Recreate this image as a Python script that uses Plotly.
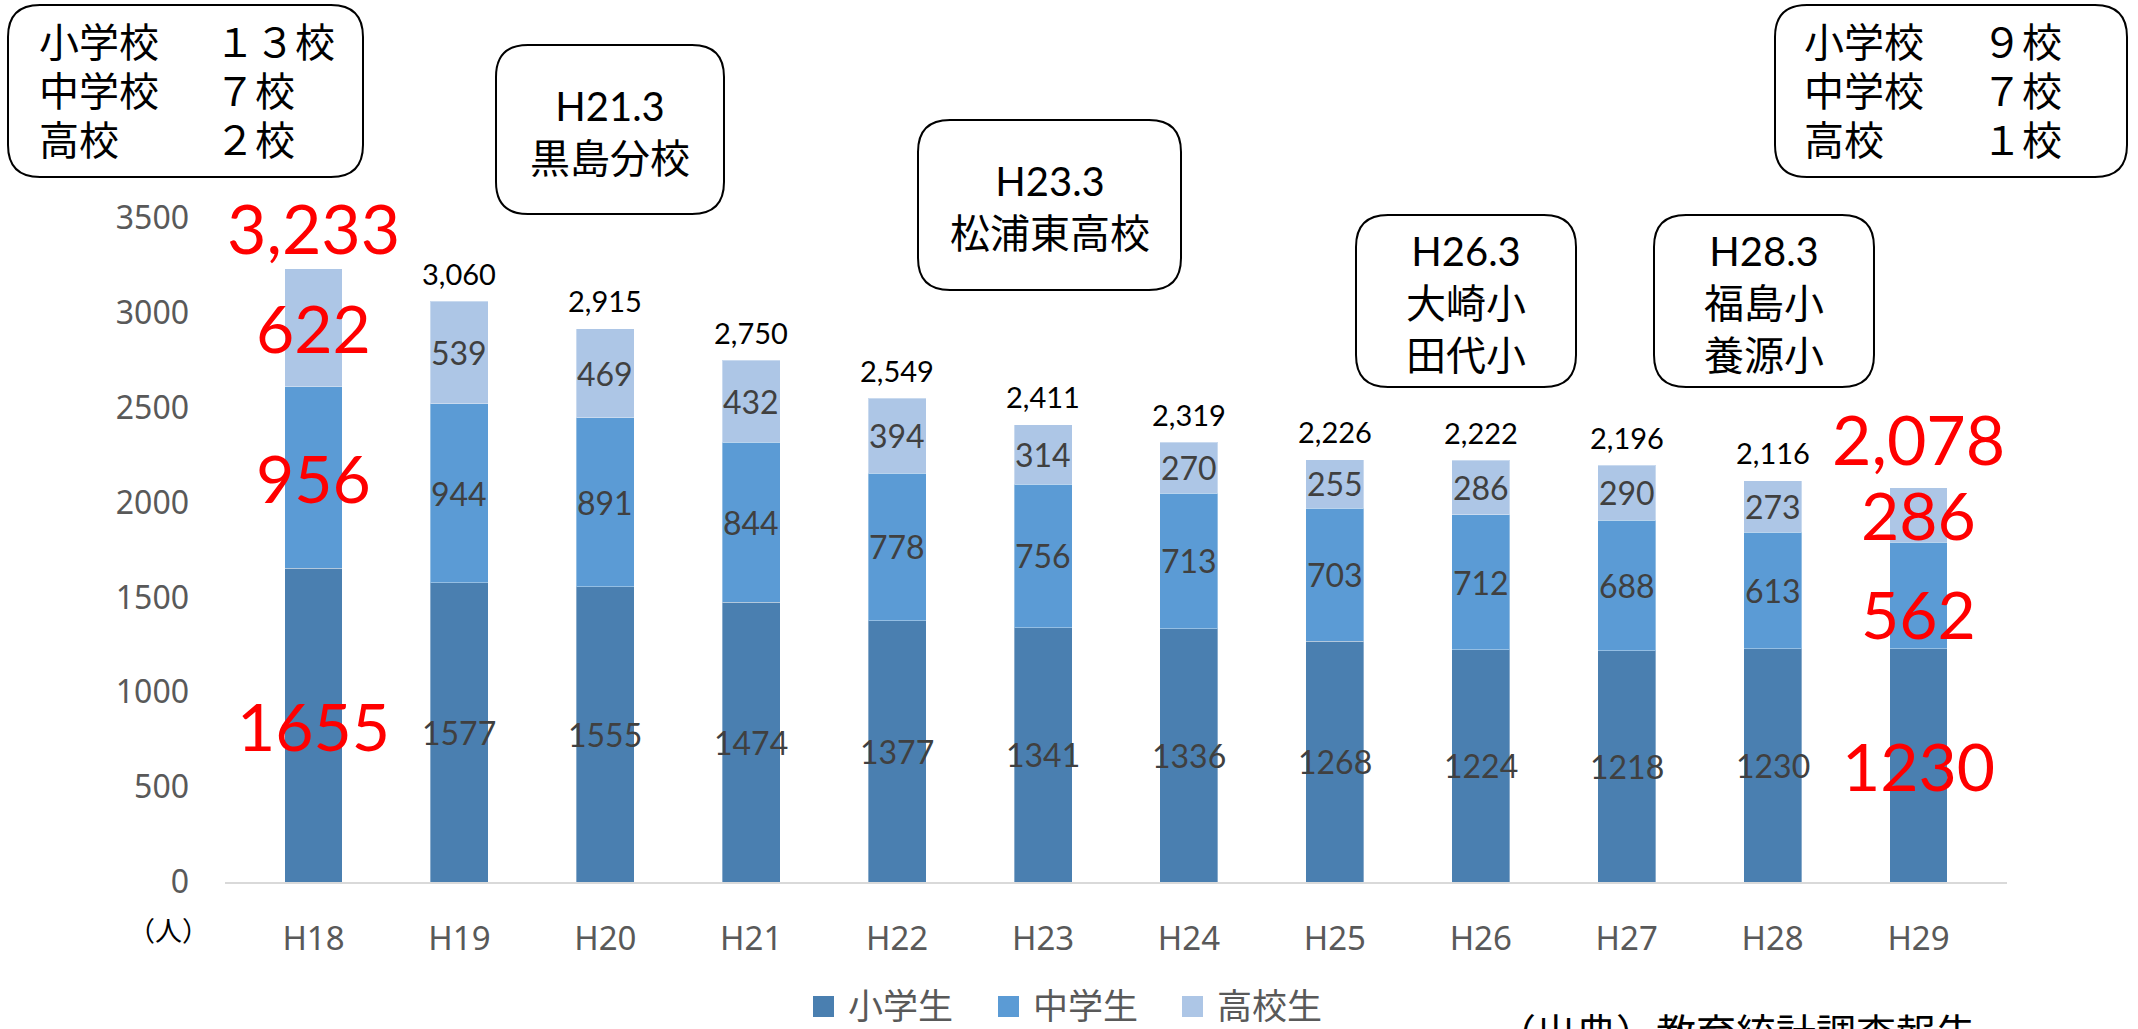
import plotly.graph_objects as go

categories = ["H18", "H19", "H20", "H21", "H22", "H23", "H24", "H25", "H26", "H27", "H28", "H29"]
elementary = [1655, 1577, 1555, 1474, 1377, 1341, 1336, 1268, 1224, 1218, 1230, 1230]
junior_high = [956, 944, 891, 844, 778, 756, 713, 703, 712, 688, 613, 562]
high_school = [622, 539, 469, 432, 394, 314, 270, 255, 286, 290, 273, 286]
series_names = ["小学生", "中学生", "高校生"]
highlight = ["H18", "H29"]
y_ticks = [0, 500, 1000, 1500, 2000, 2500, 3000, 3500]

left_box = [("小学校", "１３校"), ("中学校", "７校"), ("高校", "２校")]
right_box = [("小学校", "９校"), ("中学校", "７校"), ("高校", "１校")]
events = [
    "H21.3<br>黒島分校",
    "H23.3<br>松浦東高校",
    "H26.3<br>大崎小<br>田代小",
    "H28.3<br>福島小<br>養源小",
]
source_text = "（出典）教育統計調査報告"

colors = ["#4A7FB0", "#5B9BD5", "#ADC6E6"]

W, H = 2138, 1029
L, R, T, B = 225, 131, 218, 147
PW, PH = W - L - R, H - T - B

def px(x):
    return (x - L) / PW

def py(y):
    return (H - B - y) / PH

NUM_FONT = "Lato, 'Noto Sans CJK JP', sans-serif"
JP_FONT = "Lato, 'Noto Sans CJK JP', sans-serif"
AX_FONT = "'Noto Sans', sans-serif"

fig = go.Figure()
for name, vals, col in zip(series_names, [elementary, junior_high, high_school], colors):
    fig.add_trace(go.Bar(
        x=categories, y=vals, name=name,
        marker=dict(color=col, line=dict(color="rgba(255,255,255,0.35)", width=1)),
        showlegend=False, hoverinfo="x+y+name",
    ))

annotations = []
shapes = []

# segment and total labels
for i, c in enumerate(categories):
    segs = [elementary[i], junior_high[i], high_school[i]]
    total = sum(segs)
    red = c in highlight
    base = 0
    for k, v in enumerate(segs):
        center = base + v / 2
        base += v
        shift = 0
        if red and c == "H29" and k == 1:
            shift = -18
        annotations.append(dict(
            x=c, y=center, xref="x", yref="y", text=str(v), showarrow=False,
            yshift=shift,
            font=dict(family=NUM_FONT, size=66 if red else 32,
                      color="#FF0000" if red else "#404040"),
        ))
    if red:
        tshift = 41 if i == 0 else 49
    else:
        tshift = 28
    annotations.append(dict(
        x=c, y=total, xref="x", yref="y", text=f"{total:,}", showarrow=False,
        yanchor="middle", yshift=tshift,
        font=dict(family=NUM_FONT, size=68 if red else 29,
                  color="#FF0000" if red else "#000000"),
    ))

def rounded(x0, y0, x1, y1, r=30):
    def P(x, y):
        return f"{px(x):.5f},{py(y):.5f}"
    path = (f"M {P(x0 + r, y0)} L {P(x1 - r, y0)} Q {P(x1, y0)} {P(x1, y0 + r)} "
            f"L {P(x1, y1 - r)} Q {P(x1, y1)} {P(x1 - r, y1)} "
            f"L {P(x0 + r, y1)} Q {P(x0, y1)} {P(x0, y1 - r)} "
            f"L {P(x0, y0 + r)} Q {P(x0, y0)} {P(x0 + r, y0)} Z")
    return dict(type="path", xref="paper", yref="paper", path=path,
                line=dict(color="#000000", width=2), fillcolor="white", layer="above")

# corner boxes
corner_boxes = [((8, 5, 363, 177), 37, 213, left_box),
                ((1775, 5, 2127, 177), 1802, 1980, right_box)]
line_y = [42, 91, 140]
for (x0, y0, x1, y1), lx, rx, rows in corner_boxes:
    shapes.append(rounded(x0, y0, x1, y1, 32))
    for (a, b), yy in zip(rows, line_y):
        for tx, t in ((lx, a), (rx, b)):
            annotations.append(dict(
                x=px(tx), y=py(yy), xref="paper", yref="paper", text=t,
                showarrow=False, xanchor="left", yanchor="middle",
                font=dict(family=JP_FONT, size=40, color="#000000"),
            ))

# event boxes
event_boxes = [(496, 45, 724, 214), (918, 120, 1181, 290),
               (1356, 215, 1576, 387), (1654, 215, 1874, 387)]
for (x0, y0, x1, y1), t in zip(event_boxes, events):
    shapes.append(rounded(x0, y0, x1, y1, 32))
    annotations.append(dict(
        x=px((x0 + x1) / 2), y=py((y0 + y1) / 2 + 2), xref="paper", yref="paper",
        text=t, showarrow=False, xanchor="center", yanchor="middle",
        font=dict(family=JP_FONT, size=40, color="#000000"),
    ))

# unit label
annotations.append(dict(
    x=px(168), y=py(929), xref="paper", yref="paper", text="（人）",
    showarrow=False, xanchor="center", yanchor="middle",
    font=dict(family="'Noto Sans CJK JP', sans-serif", size=27, color="#000000"),
))

# manual legend
legend_x = [813, 998, 1182]
for name, col, lx in zip(series_names, colors, legend_x):
    shapes.append(dict(type="rect", xref="paper", yref="paper",
                       x0=px(lx), x1=px(lx + 21), y0=py(1017), y1=py(996),
                       fillcolor=col, line=dict(width=0)))
    annotations.append(dict(
        x=px(lx + 33), y=py(1003), xref="paper", yref="paper", text=name,
        showarrow=False, xanchor="left", yanchor="middle",
        font=dict(family="'Noto Sans CJK JP', sans-serif", size=35, color="#595959"),
    ))

# source
annotations.append(dict(
    x=px(1494), y=py(1000), xref="paper", yref="paper", text=source_text,
    showarrow=False, xanchor="left", yanchor="top",
    font=dict(family="'Noto Sans CJK JP', sans-serif", size=40, color="#000000"),
))

fig.update_layout(
    width=W, height=H,
    margin=dict(l=L, r=R, t=T, b=B, autoexpand=False),
    barmode="stack", bargap=0.603,
    plot_bgcolor="white", paper_bgcolor="white",
    annotations=annotations, shapes=shapes,
    showlegend=False,
)
fig.update_xaxes(
    type="category", showline=True, linecolor="#D9D9D9", linewidth=2,
    showgrid=False, ticks="", ticklabelstandoff=26,
    tickfont=dict(family=AX_FONT, size=33, color="#595959"),
)
fig.update_yaxes(
    range=[0, 3500], tickvals=y_ticks, showgrid=False, zeroline=False,
    showline=False, ticks="", ticklabelstandoff=35,
    tickfont=dict(family=AX_FONT, size=32, color="#595959"),
)

fig.write_html("out.html", config={"displayModeBar": False},
               post_script="document.body.style.margin='0px';document.body.style.overflow='hidden';")
